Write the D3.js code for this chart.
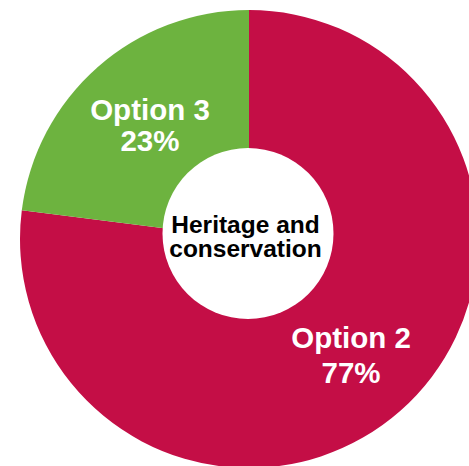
<!DOCTYPE html>
<html>
<head>
<meta charset="utf-8">
<script src="https://cdn.jsdelivr.net/npm/d3@7"></script>
<style>
  html, body { margin: 0; padding: 0; background: #ffffff; }
  svg { display: block; }
  text { font-family: "Liberation Sans", Arial, Helvetica, sans-serif; font-weight: bold; }
</style>
</head>
<body>
<svg id="chart" width="469" height="466"></svg>
<script>
// Share of responses for the heritage and conservation question
const categories = ["Option 2", "Option 3"];
const shares = [77, 23];
const colours = ["#c40e46", "#6db33f"];
const centreTitle = ["Heritage and", "conservation"];

const svg = d3.select("#chart");
const cx = 249, cy = 239, outerR = 229;

const colour = d3.scaleOrdinal().domain(categories).range(colours);

const pie = d3.pie().sort(null).value(d => d.value);
const slices = pie(categories.map((c, i) => ({ name: c, value: shares[i] })));

const arc = d3.arc().innerRadius(0).outerRadius(outerR);
const labelArc = d3.arc().innerRadius(152).outerRadius(152);

const g = svg.append("g").attr("transform", `translate(${cx},${cy})`);

g.selectAll("path.slice")
  .data(slices)
  .join("path")
  .attr("class", "slice")
  .attr("d", arc)
  .attr("fill", d => colour(d.data.name));

// Centre disc with the topic title
const hole = svg.append("g").attr("transform", "translate(248,233.5)");
hole.append("circle").attr("r", 85.5).attr("fill", "#ffffff");
hole.append("text")
  .attr("text-anchor", "middle")
  .attr("font-size", 24.5)
  .attr("fill", "#000000")
  .selectAll("tspan")
  .data(centreTitle)
  .join("tspan")
  .attr("x", -2.5)
  .attr("y", (d, i) => -0.8 + i * 24.6)
  .text(d => d);

// Slice labels: name and percentage
const labels = g.selectAll("text.label")
  .data(slices)
  .join("text")
  .attr("class", "label")
  .attr("text-anchor", "middle")
  .attr("font-size", 29.5)
  .attr("fill", "#ffffff")
  .attr("transform", d => {
    const [x, y] = labelArc.centroid(d);
    return `translate(${x + 1.5},${y})`;
  });

labels.append("tspan").attr("x", 0).attr("y", d => d.index === 0 ? -5.5 : -4.7).text(d => d.data.name);
labels.append("tspan").attr("x", 0).attr("y", d => d.index === 0 ? 29.5 : 26).text(d => d.data.value + "%");
</script>
</body>
</html>
